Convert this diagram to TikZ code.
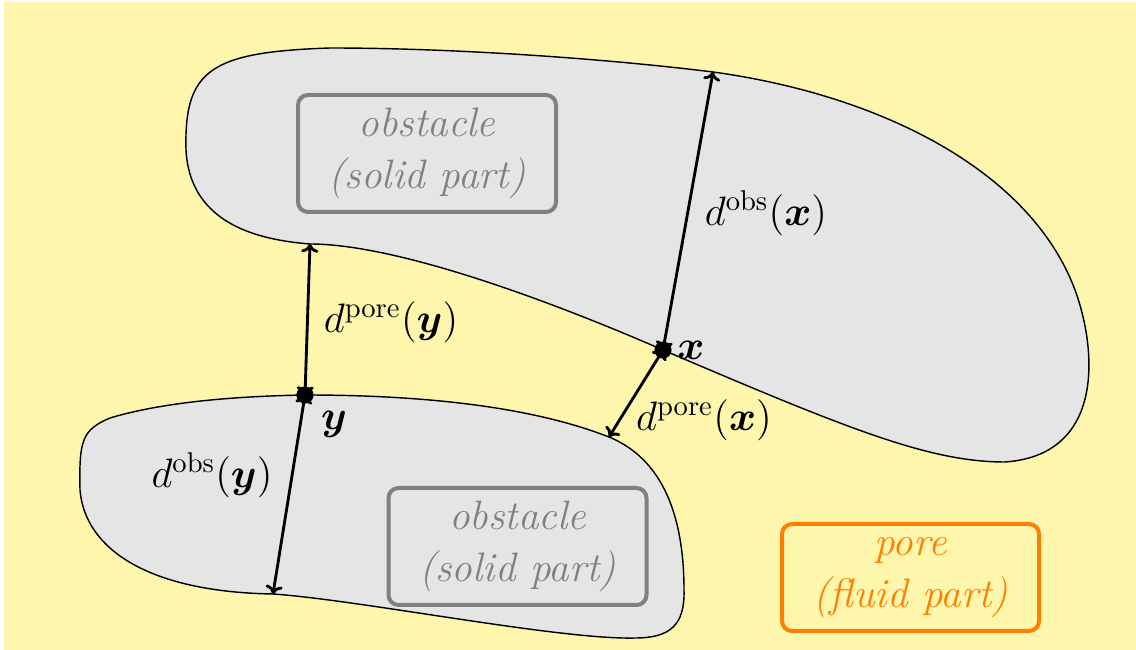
\documentclass[tikz,border=0pt]{standalone}
\usepackage{amsmath,bm}
\usetikzlibrary{arrows.meta}
\definecolor{bgyellow}{RGB}{255,246,173}
\definecolor{blobgray}{RGB}{229,229,229}
\definecolor{boxgray}{RGB}{128,128,128}
\definecolor{poreorange}{RGB}{255,128,0}
\tikzset{
  blob/.style={draw=black, line width=0.5pt, fill=blobgray},
  labelbox/.style={draw=boxgray, line width=1.4pt, rounded corners=3.5pt, text=boxgray,
     minimum width=258*0.35pt, minimum height=117*0.35pt, align=center, font=\Large\itshape, inner sep=0pt},
  porebox/.style={draw=poreorange, line width=1.4pt, rounded corners=3.5pt, text=poreorange,
     minimum width=257*0.35pt, minimum height=107*0.35pt, align=center, font=\Large\itshape, inner sep=0pt},
  distarrow/.style={line width=1pt, {To[length=3pt,width=6pt]}-{To[length=3pt,width=6pt]}},
  ptdot/.style={circle, fill=black, inner sep=0pt, minimum size=6pt},
  mlabel/.style={font=\Large, inner sep=0pt}
}
\begin{document}
\begin{tikzpicture}[x=0.35pt, y=-0.35pt]
\useasboundingbox (0,0) rectangle (1136,650);
\fill[bgyellow] (4,2) rectangle (1136,650);

% upper obstacle
\draw[blob] (186,150) .. controls (184,70) and (210,52) .. (330,48)
  .. controls (450,48) and (600,58) .. (713,72)
  .. controls (880,95) and (1030,170) .. (1075,290)
  .. controls (1097,350) and (1105,455) .. (1005,462)
  .. controls (930,462) and (850,430) .. (663,350)
  .. controls (560,305) and (400,244) .. (310,244)
  .. controls (260,240) and (190,225) .. (186,150) -- cycle;

% lower obstacle
\draw[blob] (80,490) .. controls (79,440) and (82,430) .. (110,418)
  .. controls (170,400) and (250,396) .. (305,395)
  .. controls (440,395) and (540,410) .. (609,437)
  .. controls (670,462) and (684,530) .. (684,590)
  .. controls (685,625) and (670,638) .. (635,638)
  .. controls (560,640) and (360,600) .. (273,594)
  .. controls (150,592) and (85,550) .. (80,490) -- cycle;

% points
\coordinate (x) at (663,350);
\coordinate (y) at (305,395);
\coordinate (xobs) at (713,72);
\coordinate (xpore) at (609,437);
\coordinate (yobs) at (273,594);
\coordinate (ypore) at (310,244);

\draw[distarrow] (x) -- (xobs);
\draw[distarrow] (x) -- (xpore);
\draw[distarrow] (y) -- (ypore);
\draw[distarrow] (y) -- (yobs);

\node[ptdot] (xdot) at (x) {};
\node[ptdot] (ydot) at (y) {};

\node[mlabel] (xlab) at (691,350) {$\bm{x}$};
\node[mlabel] (ylab) at (334,424) {$\bm{y}$};
\node[mlabel] (lyp) at (391,322) {$d^{\mathrm{pore}}(\bm{y})$};
\node[mlabel] (lyo) at (212,475) {$d^{\mathrm{obs}}(\bm{y})$};
\node[mlabel] (lxo) at (766,213) {$d^{\mathrm{obs}}(\bm{x})$};
\node[mlabel] (lxp) at (704,420) {$d^{\mathrm{pore}}(\bm{x})$};

\node[labelbox] (obs1) at (427,153.5) {obstacle\\(solid part)};
\node[labelbox] (obs2) at (517.5,546.5) {obstacle\\(solid part)};
\node[porebox] (pore) at (910.5,577.5) {pore\\(fluid part)};
\end{tikzpicture}
\end{document}
